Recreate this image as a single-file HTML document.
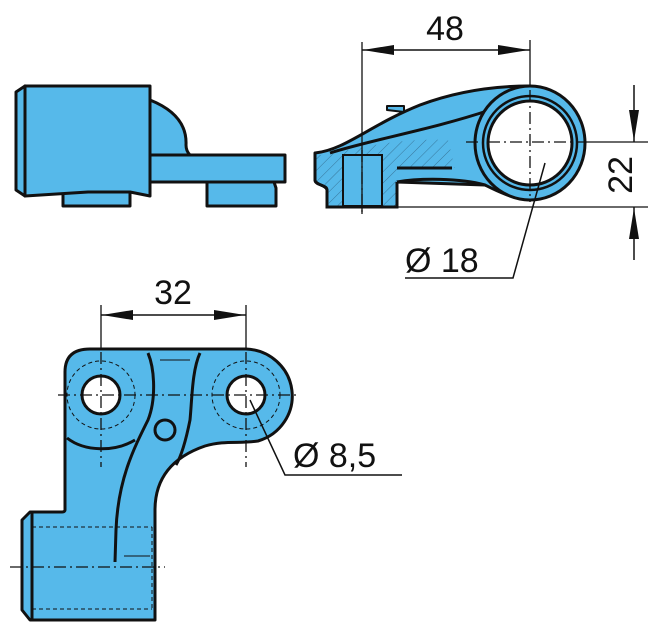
<!DOCTYPE html>
<html><head><meta charset="utf-8"><style>
html,body{margin:0;padding:0;background:#fff;}
svg{display:block;}
text{font-family:"Liberation Sans",sans-serif;fill:#111;}
</style></head><body>
<svg width="657" height="634" viewBox="0 0 657 634" xmlns="http://www.w3.org/2000/svg">
<defs>
<pattern id="h" patternUnits="userSpaceOnUse" width="8" height="8" patternTransform="rotate(45)">
<rect width="8" height="8" fill="#56b9ea"/><line x1="0" y1="0" x2="0" y2="8" stroke="#2a5a7a" stroke-width="0.7"/>
</pattern>
</defs>
<g stroke="#111" stroke-width="3" fill="#56b9ea" stroke-linejoin="round">
<!-- top-left view -->
<rect x="63" y="190" width="67" height="16"/>
<path d="M207,182 L274,182 L276,188 L276,206 L207,206 Z"/>
<path d="M150,100 C175,110 187,125 186,145 C186,150 188,153 190,155 L150,155 Z"/>
<rect x="150" y="155" width="135" height="27"/>
<path d="M16,92 L25,86 L25,196 L16,190 Z"/>
<path d="M25,86 L150,86 L150,196 L130,192 L88,192 L25,196 Z"/>
</g>
<!-- top-right view -->
<g stroke="#111" stroke-width="3" fill="#56b9ea" stroke-linejoin="round">
<path d="M387,110 L387,106 L404,106 L404,112 Z" stroke-width="2"/>
<path d="M315,153 C345,150 370,125 420,105 C460,90 500,86 530,86 L530,200 C510,198 495,190 485,185 L397,182 L397,207 L327,207 L327,190 C327,185 315,185 315,180 Z"/>
<path d="M330,153 C370,140 430,130 490,110" fill="none"/>
<path d="M397,168 L450,168" fill="none"/>
</g>
<path d="M316,155 L329,155 C365,145 410,138 448,140 L455,168 L397,168 L397,206 L329,206 L328,188 C328,184 316,184 316,180 Z" fill="url(#h)"/>
<rect x="343" y="155" width="39" height="51" fill="#56b9ea" stroke="#111" stroke-width="2"/>
<g stroke="#111" stroke-width="3" fill="none">
<path d="M315,153 L315,180 C315,185 327,185 327,190 L327,207 L397,207 L397,182"/>
<path d="M397,182 C420,178 460,178 485,185"/>
<line x1="397" y1="168" x2="452" y2="168"/>
</g>
<ellipse cx="530" cy="143" rx="55" ry="57" fill="#56b9ea" stroke="#111" stroke-width="3"/>
<circle cx="530" cy="143" r="47" fill="#56b9ea" stroke="#111" stroke-width="2.5"/>
<circle cx="530" cy="143" r="42" fill="#fff" stroke="#111" stroke-width="3"/>
<g stroke="#111" stroke-width="1.3" fill="none">
<line x1="362" y1="42" x2="362" y2="214"/>
<line x1="530" y1="40" x2="530" y2="86"/>
<line x1="362" y1="50" x2="530" y2="50" stroke-width="1.5"/>
<line x1="530" y1="90" x2="530" y2="202" stroke-dasharray="12,4,2,4"/>
<line x1="466" y1="142" x2="586" y2="142" stroke-dasharray="12,4,2,4"/>
<line x1="362" y1="150" x2="362" y2="214" stroke-dasharray="12,4,2,4"/>
<line x1="586" y1="142" x2="648" y2="142"/>
<line x1="397" y1="207" x2="648" y2="207"/>
<line x1="634" y1="85" x2="634" y2="142" stroke-width="1.5"/>
<line x1="634" y1="207" x2="634" y2="260" stroke-width="1.5"/>
<polyline points="545,163 513,278 405,278" stroke-width="1.5"/>
</g>
<g fill="#111">
<polygon points="363,50 394,45 394,55"/>
<polygon points="529,50 498,45 498,55"/>
<polygon points="634,141 629,110 639,110"/>
<polygon points="634,208 629,239 639,239"/>
<polygon points="102,315 133,310 133,320"/>
<polygon points="245,315 214,310 214,320"/>
</g>
<text x="445" y="40" font-size="34" text-anchor="middle">48</text>
<text transform="translate(632,175) rotate(-90)" font-size="34" text-anchor="middle">22</text>
<text x="405" y="272" font-size="34">Ø 18</text>
<!-- bottom view -->
<g stroke="#111" stroke-width="3" fill="#56b9ea" stroke-linejoin="round">
<path d="M65,510 L65,372 Q65,349 90,349 L246,349 A48,47 0 0 1 258,441 C240,444 225,440 205,446 C170,458 155,480 155,510 L155,620 L30,620 L22,610 L22,520 L30,512 L62,512 C65,512 65,510 65,510 Z"/>
<line x1="32" y1="513" x2="32" y2="619"/>
</g>
<g stroke="#111" stroke-width="3" fill="none">
<path d="M67,438 C85,452 115,452 135,440"/>
<path d="M148,353 C155,370 156,400 148,420 C133,450 118,480 116,530 L115,562"/>
<path d="M200,353 C192,370 192,400 190,420 C186,440 182,455 176,465"/>
<circle cx="165" cy="430" r="10" fill="#56b9ea"/>
</g>
<g stroke="#111" fill="none">
<circle cx="101" cy="395" r="34" stroke-width="1" stroke-dasharray="4,3"/>
<circle cx="246" cy="395" r="34" stroke-width="1" stroke-dasharray="4,3"/>
<line x1="32" y1="527" x2="152" y2="527" stroke-width="1" stroke-dasharray="4,3"/>
<line x1="32" y1="609" x2="152" y2="609" stroke-width="1" stroke-dasharray="4,3"/>
<line x1="152" y1="527" x2="152" y2="609" stroke-width="1" stroke-dasharray="4,3"/>
<line x1="124" y1="556" x2="150" y2="556" stroke-width="1"/>
<line x1="160" y1="360" x2="190" y2="360" stroke-width="1"/>
</g>
<circle cx="101" cy="395" r="19" fill="#fff" stroke="#111" stroke-width="3"/>
<circle cx="246" cy="395" r="19" fill="#fff" stroke="#111" stroke-width="3"/>
<g stroke="#111" stroke-width="1.3" fill="none">
<line x1="101" y1="305" x2="101" y2="349"/>
<line x1="246" y1="305" x2="246" y2="349"/>
<line x1="101" y1="315" x2="246" y2="315" stroke-width="1.5"/>
<line x1="101" y1="352" x2="101" y2="467" stroke-dasharray="12,4,2,4"/>
<line x1="246" y1="352" x2="246" y2="467" stroke-dasharray="12,4,2,4"/>
<line x1="58" y1="395" x2="298" y2="395" stroke-dasharray="12,4,2,4"/>
<line x1="10" y1="567" x2="165" y2="567" stroke-dasharray="12,4,2,4"/>
<polyline points="250,400 285,475 402,475" stroke-width="1.5"/>
</g>
<text x="173" y="304" font-size="34" text-anchor="middle">32</text>
<text x="293" y="467" font-size="34">Ø 8,5</text>
</svg>
</body></html>
